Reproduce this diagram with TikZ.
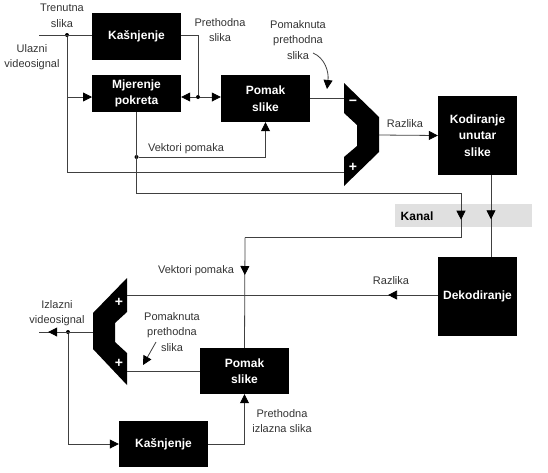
\documentclass[tikz,border=0pt]{standalone}
\usepackage{fontspec}
\setmainfont{Liberation Sans}
\usetikzlibrary{arrows.meta,decorations.markings}

\tikzset{
  blok/.style={fill=black, text=white, align=center, inner sep=0pt,
    font=\bfseries\fontsize{12}{16.5}\selectfont},
  oznaka/.style={text=black!80, align=center, inner sep=0pt,
    font=\fontsize{11}{15.5}\selectfont},
  znak/.style={text=white, inner sep=0pt, font=\bfseries\fontsize{14}{14}\selectfont},
  veza/.style={draw=black!75, line width=0.8pt},
  strel/.style={veza, -{Triangle[length=9pt,width=9pt,color=black]}},
  usred/.style={veza, postaction={decorate}, decoration={markings,
    mark=at position #1 with {\arrow{Triangle[length=9pt,width=9pt,color=black]}}}},
  tocka/.style={circle, fill=black, inner sep=0pt, minimum size=4pt},
}

\begin{document}
\begin{tikzpicture}[x=1pt,y=-1pt]
  \useasboundingbox (0,0) rectangle (548,472);

  % kanal
  \fill[black!12] (395,204) rectangle (532,227);
  \node[oznaka, text=black, font=\bfseries\fontsize{12}{14}\selectfont] (kanal) at (417,216) {Kanal};

  % koder - blokovi
  \node[blok, minimum width=89pt, minimum height=47pt] (kasnA) at (136.5,36.5) {Kašnjenje};
  \node[blok, minimum width=89pt, minimum height=37pt] (mjer) at (136.5,93.5) {Mjerenje\\pokreta};
  \node[blok, minimum width=89pt, minimum height=47pt] (pomA) at (265.5,98.5) {Pomak\\slike};
  \node[blok, minimum width=79pt, minimum height=79pt] (kod) at (477.5,135.5) {Kodiranje\\unutar\\slike};

  % oduzimalo
  \fill[black] (344,83) -- (379,117) -- (379,152) -- (344,186) -- (344,157)
    -- (357,146) -- (357,125) -- (344,113) -- cycle;
  \node[znak] (minus) at (353,103) {−};
  \node[znak] (plusA) at (353,167) {+};
  \coordinate (subMinus) at (344,98);
  \coordinate (subPlus) at (344,172);
  \coordinate (subOut) at (379,135);

  % dekoder - blokovi
  \node[blok, minimum width=79pt, minimum height=79pt] (dek) at (477.5,296.5) {Dekodiranje};
  \node[blok, minimum width=89pt, minimum height=46pt] (pomB) at (244.5,371) {Pomak\\slike};
  \node[blok, minimum width=89pt, minimum height=46pt] (kasnB) at (163.5,444) {Kašnjenje};

  % zbrajalo
  \fill[black] (127,278) -- (93,313) -- (93,349) -- (127,385) -- (127,353)
    -- (115,342) -- (115,323) -- (127,312) -- cycle;
  \node[znak] (plusB) at (119,302) {+};
  \node[znak] (plusC) at (119,363) {+};
  \coordinate (addTop) at (127,295);
  \coordinate (addBot) at (127,370);
  \coordinate (addOut) at (93,332);

  % tocke i pomocne koordinate
  \coordinate (ulaz) at (39,35);
  \node[tocka] (d1) at (67,35) {};
  \node[tocka] (d2) at (198,97) {};
  \node[tocka] (d3) at (136.5,157) {};
  \node[tocka] (d4) at (68,332) {};
  \coordinate (mjUl) at (92,97);
  \coordinate (k1) at (461,193);
  \coordinate (k2) at (461,237.5);
  \coordinate (k3) at (245,237.5);
  \coordinate (izlaz) at (39,332);

  % veze koder
  \draw[veza] (ulaz) -- (ulaz -| kasnA.west);
  \draw[veza] (d1) |- (subPlus);
  \draw[strel] (d1 |- mjUl) -- (mjUl);
  \draw[veza] (kasnA.east |- ulaz) -| (d2);
  \draw[strel] (d2) -- (mjer.east |- d2);
  \draw[strel] (d2) -- (pomA.west |- d2);
  \draw[veza] (pomA.east |- subMinus) -- (subMinus);
  \draw[strel] (d3) -| (pomA.south);
  \draw[veza] (mjer.south) |- (k1);
  \draw[strel] (subOut) -- (kod.west);

  % kanal
  \draw[usred=0.6] (k1) -- (k2);
  \draw[veza] (k2) -- (k3);
  \draw[usred=0.54] ([xshift=13.5pt]kod.south) -- ([xshift=13.5pt]dek.north);

  % veze dekoder
  \draw[usred=0.34] (k3) -- (pomB.north);
  \draw[usred=0.16] (dek.west |- addTop) -- (addTop);
  \draw[veza] (pomB.west) -- (pomB.west -| addBot);
  \draw[usred=0.83] (addOut) -- (izlaz);
  \draw[strel] (d4) |- (kasnB.west);
  \draw[strel] (kasnB.east) -| (pomB.south);

  % oznake
  \node[oznaka] (tren) at (62,16) {Trenutna\\slika};
  \node[oznaka] (ulazni) at (32,57) {Ulazni\\videosignal};
  \node[oznaka] (preth) at (220,30) {Prethodna\\slika};
  \node[oznaka] (pomakA) at (298,40) {Pomaknuta\\prethodna\\slika};
  \node[oznaka] (vektA) at (186,149) {Vektori pomaka};
  \node[oznaka] (razA) at (405,124) {Razlika};
  \node[oznaka] (razB) at (391,281) {Razlika};
  \node[oznaka] (vektB) at (196,271) {Vektori pomaka};
  \node[oznaka] (izlazni) at (57,313) {Izlazni\\videosignal};
  \node[oznaka] (pomakB) at (172,332) {Pomaknuta\\prethodna\\slika};
  \node[oznaka] (prethB) at (282,421) {Prethodna\\izlazna slika};

  % pokazivaci
  \coordinate (p1) at (313,53);
  \coordinate (p2) at (327,89);
  \draw[strel] (p1) .. controls (325,58) and (329,72) .. (p2);
  \coordinate (p3) at (156,342);
  \coordinate (p4) at (143,365);
  \draw[strel] (p3) -- (p4);
\end{tikzpicture}
\end{document}
